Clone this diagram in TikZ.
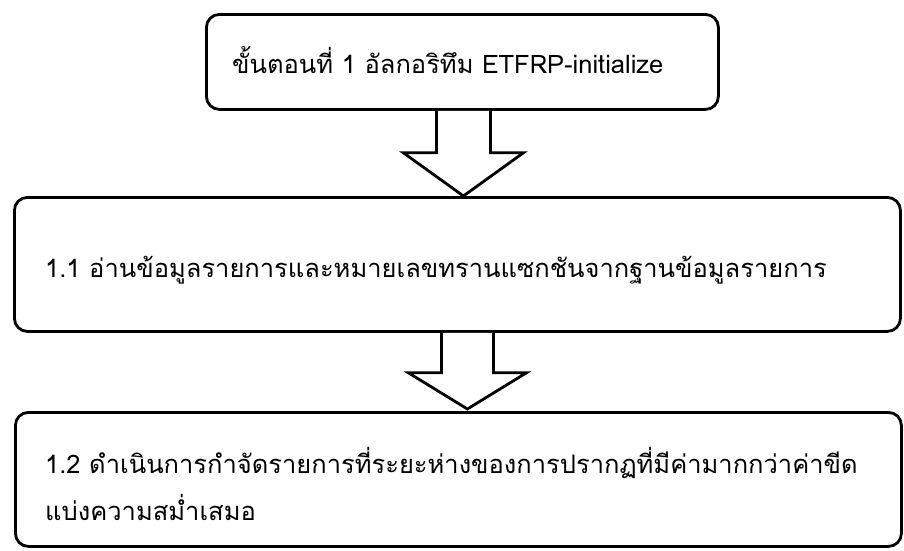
\documentclass[tikz,border=0pt]{standalone}
\usepackage{fontspec}
\newfontfamily\thai[Script=Thai]{Loma}
\usetikzlibrary{calc}
\begin{document}
\begin{tikzpicture}[x=1pt,y=-1pt,
  box/.style={draw, line width=2.8pt, rounded corners=13pt, anchor=north west, inner sep=0pt},
  txt/.style={anchor=base west, inner sep=0pt, font=\thai\fontsize{25.5}{30}\selectfont},
  blockarrow/.style={draw, fill=white, line width=2.8pt, line join=miter}]
\useasboundingbox (0,0) rectangle (904,550);
\node[box, minimum width=512pt, minimum height=95pt] (b1) at (205,13) {};
\node[box, minimum width=886pt, minimum height=134pt] (b2) at (13,196) {};
\node[box, minimum width=886pt, minimum height=134pt] (b3) at (14,411) {};
\node[txt] (t1) at (232,73) {ขั้นตอนที่ 1 อัลกอริทึม ETFRP-initialize};
\node[txt] (t2) at (45,277) {1.1 อ่านข้อมูลรายการและหมายเลขทรานแซกชันจากฐานข้อมูลรายการ};
\node[txt] (t3) at (45,473) {1.2 ดำเนินการกำจัดรายการที่ระยะห่างของการปรากฏที่มีค่ามากกว่าค่าขีด};
\node[txt] (t4) at (45,520) {แบ่งความสม่ำเสมอ};
\coordinate (a1) at ($(b1.south)+(1,0)$);
\coordinate (a2) at ($(b2.south)+(10,0)$);
\draw[blockarrow] ($(a1)+(-27,0)$) -- ++(0,42) -- ++(-33,0) -- (b2.north -| a1) -- ($(a1)+(60,42)$) -- ++(-33,0) -- ($(a1)+(27,0)$);
\draw[blockarrow] ($(a2)+(-26,0)$) -- ++(0,40) -- ++(-33,0) -- ($(b3.north -| a2)+(0,-2)$) -- ($(a2)+(59,40)$) -- ++(-33,0) -- ($(a2)+(26,0)$);
\end{tikzpicture}
\end{document}
